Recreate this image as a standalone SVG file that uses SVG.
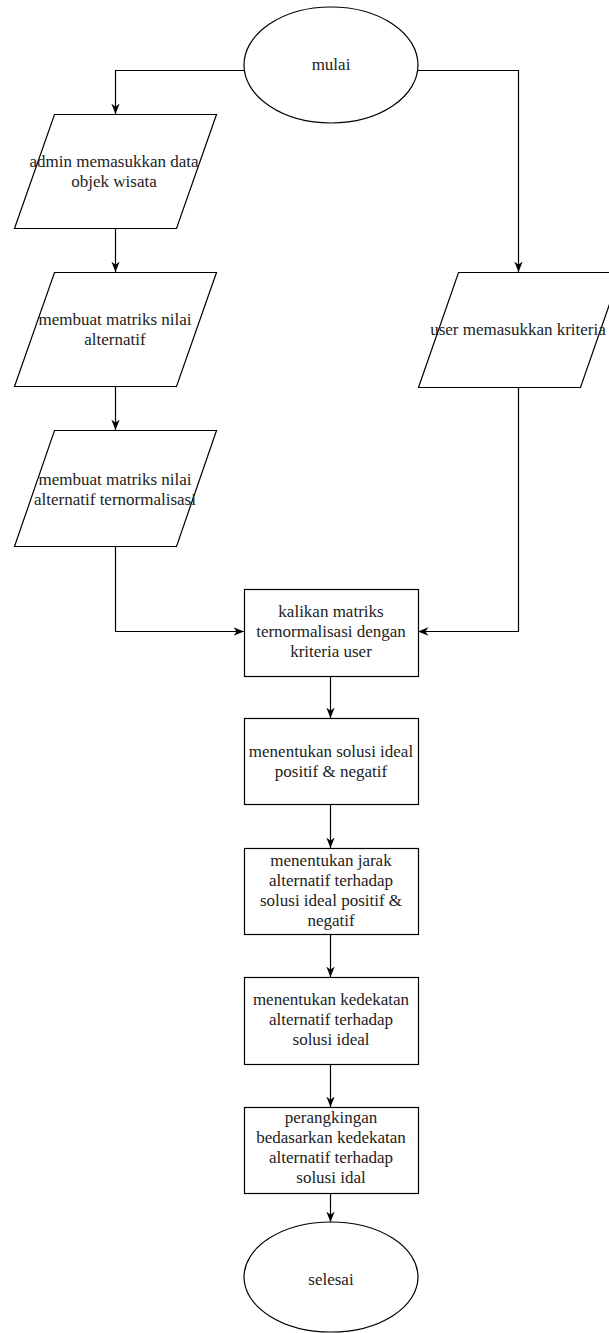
<svg xmlns="http://www.w3.org/2000/svg" width="609" height="1333" viewBox="0 0 609 1333">
  <style>
    .shape { fill: #ffffff; stroke: #000000; stroke-width: 1.2; }
    .edge { fill: none; stroke: #000000; stroke-width: 1.2; }
    text { font-family: "Liberation Serif", "Times New Roman", serif; font-size: 17px; fill: #222222; text-anchor: middle; }
  </style>
  <defs>
    <marker id="arrow" viewBox="0 0 10 10" markerWidth="10.5" markerHeight="10.5" refX="10" refY="5" orient="auto" markerUnits="userSpaceOnUse">
      <path d="M0,1 L10,5 L0,9 L3,5 Z" fill="#000000"/>
    </marker>
  </defs>
  <rect width="609" height="1333" fill="#ffffff"/>

  <!-- connectors -->
  <g id="connectors">
    <path class="edge" d="M244,70.5 H115.5 V114" marker-end="url(#arrow)"/>
    <path class="edge" d="M418,70.5 H518.5 V272" marker-end="url(#arrow)"/>
    <path class="edge" d="M115.5,228 V272" marker-end="url(#arrow)"/>
    <path class="edge" d="M115.5,386 V430" marker-end="url(#arrow)"/>
    <path class="edge" d="M115.5,546 V631.5 H244" marker-end="url(#arrow)"/>
    <path class="edge" d="M518.5,387 V631.5 H418" marker-end="url(#arrow)"/>
    <path class="edge" d="M330.5,676 V718" marker-end="url(#arrow)"/>
    <path class="edge" d="M330.5,804 V848" marker-end="url(#arrow)"/>
    <path class="edge" d="M330.5,934 V977" marker-end="url(#arrow)"/>
    <path class="edge" d="M330.5,1064 V1107" marker-end="url(#arrow)"/>
    <path class="edge" d="M330.5,1193 V1222" marker-end="url(#arrow)"/>
  </g>

  <!-- start -->
  <g id="mulai">
    <ellipse class="shape" cx="331" cy="65" rx="87" ry="58"/>
    <text x="331" y="70">mulai</text>
  </g>

  <!-- admin input -->
  <g id="input-admin">
    <polygon class="shape" points="54.5,114.5 216.5,114.5 176.5,228.5 14.5,228.5"/>
    <text x="114" y="167">admin memasukkan data</text>
    <text x="114" y="187">objek wisata</text>
  </g>

  <g id="matriks-alternatif">
    <polygon class="shape" points="54.5,272.5 216.5,272.5 176.5,386.5 14.5,386.5"/>
    <text x="115" y="325">membuat matriks nilai</text>
    <text x="115" y="345">alternatif</text>
  </g>

  <g id="matriks-ternormalisasi">
    <polygon class="shape" points="54.5,430.5 216.5,430.5 176.5,546.5 14.5,546.5"/>
    <text x="115" y="485">membuat matriks nilai</text>
    <text x="115" y="505">alternatif ternormalisasi</text>
  </g>

  <!-- user input -->
  <g id="input-user">
    <polygon class="shape" points="458.5,272.5 620.5,272.5 580.5,387.5 418.5,387.5"/>
    <text x="518" y="335">user memasukkan kriteria</text>
  </g>

  <g id="kalikan">
    <rect class="shape" x="244.5" y="589.5" width="174" height="87"/>
    <text x="331" y="617">kalikan matriks</text>
    <text x="331" y="637">ternormalisasi dengan</text>
    <text x="331" y="657">kriteria user</text>
  </g>

  <g id="solusi-ideal">
    <rect class="shape" x="244.5" y="718.5" width="174" height="86"/>
    <text x="331" y="757">menentukan solusi ideal</text>
    <text x="331" y="777">positif &amp; negatif</text>
  </g>

  <g id="jarak">
    <rect class="shape" x="244.5" y="848.5" width="174" height="86"/>
    <text x="331" y="866">menentukan jarak</text>
    <text x="331" y="886">alternatif terhadap</text>
    <text x="331" y="906">solusi ideal positif &amp;</text>
    <text x="331" y="926">negatif</text>
  </g>

  <g id="kedekatan">
    <rect class="shape" x="244.5" y="977.5" width="174" height="87"/>
    <text x="331" y="1005">menentukan kedekatan</text>
    <text x="331" y="1025">alternatif terhadap</text>
    <text x="331" y="1045">solusi ideal</text>
  </g>

  <g id="perangkingan">
    <rect class="shape" x="244.5" y="1107.5" width="174" height="86"/>
    <text x="331" y="1123">perangkingan</text>
    <text x="331" y="1143">bedasarkan kedekatan</text>
    <text x="331" y="1163">alternatif terhadap</text>
    <text x="331" y="1183">solusi idal</text>
  </g>

  <!-- end -->
  <g id="selesai">
    <ellipse class="shape" cx="331" cy="1277" rx="87" ry="55"/>
    <text x="331" y="1285">selesai</text>
  </g>
</svg>
